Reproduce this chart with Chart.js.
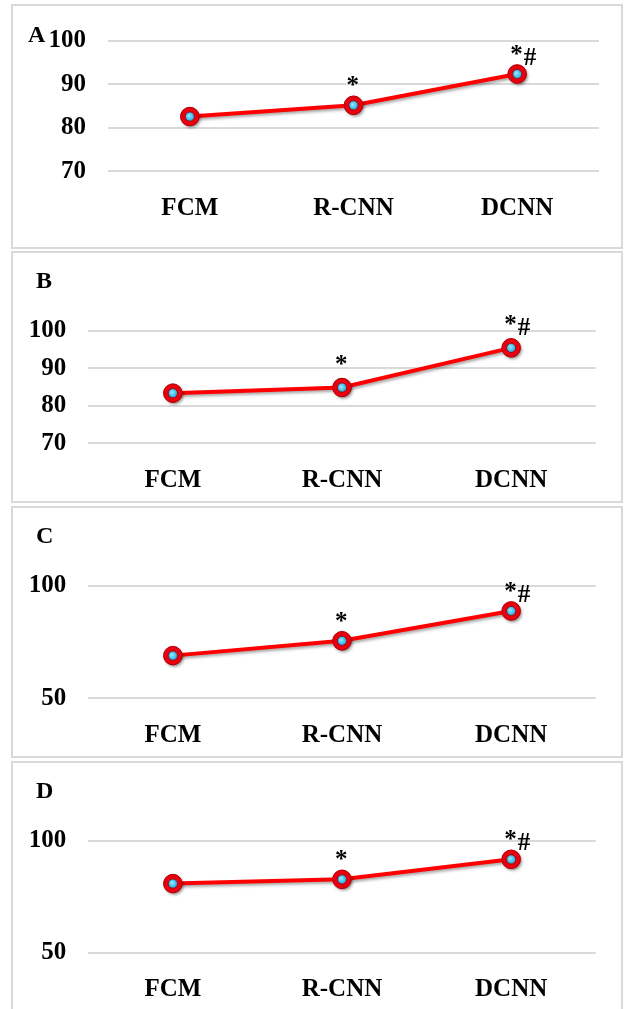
<!DOCTYPE html>
<html>
<head>
<meta charset="utf-8">
<script src="https://cdn.jsdelivr.net/npm/chart.js@4.4.1/dist/chart.umd.min.js"></script>
<style>
  html, body { margin: 0; padding: 0; background: #fff; }
  body { position: relative; width: 625px; height: 1009px; overflow: hidden; }
  .frame { position: absolute; left: 11px; width: 612px; box-sizing: border-box; border: 2px solid #d9d9d9; }
  canvas { position: absolute; left: 0; }
</style>
</head>
<body>
<div class="frame" id="fA"></div>
<div class="frame" id="fB"></div>
<div class="frame" id="fC"></div>
<div class="frame" id="fD"></div>
<canvas id="cA"></canvas>
<canvas id="cB"></canvas>
<canvas id="cC"></canvas>
<canvas id="cD"></canvas>
<script>
// Segmentation methods compared in every panel
const methods = ['FCM', 'R-CNN', 'DCNN'];

// Scores per panel (%)
const scoresA = [82.6, 85.2, 92.4];
const scoresB = [83.4, 84.9, 95.5];
const scoresC = [69.0, 75.6, 88.9];
const scoresD = [80.9, 82.8, 91.7];

// Significance marks above each method
const marks = ['', '*', '*#'];

// Y-axis tick values
const ticksAB = [70, 80, 90, 100];
const ticksCD = [50, 100];

const FONT = "'Liberation Serif', 'Times New Roman', serif";

// Panel geometry (page pixels)
const panels = [
  { id: 'A', data: scoresA, ticks: ticksAB, min: 70, max: 100, top: 4,   height: 245, gl: 108,  gr: 599,   gt: 37,    gb: 171.3, lx: 28, ly: 42,    lift: 9 },
  { id: 'B', data: scoresB, ticks: ticksAB, min: 70, max: 100, top: 251, height: 252, gl: 88.3, gr: 595.7, gt: 331,   gb: 443.3, lx: 36, ly: 288,   lift: 13 },
  { id: 'C', data: scoresC, ticks: ticksCD, min: 50, max: 100, top: 506, height: 252, gl: 88.3, gr: 595.7, gt: 586,   gb: 698.3, lx: 36, ly: 542.5, lift: 9 },
  { id: 'D', data: scoresD, ticks: ticksCD, min: 50, max: 100, top: 761, height: 252, gl: 88.3, gr: 595.7, gt: 840.7, gb: 953,   lx: 36, ly: 798,   lift: 9 }
];

const X_AXIS_H = 50;

// Soft drop shadow under the line and markers
const shade = {
  id: 'shade',
  beforeDatasetsDraw(chart) {
    const c = chart.ctx;
    c.save();
    c.shadowColor = 'rgba(0,0,0,0.35)';
    c.shadowBlur = 3;
    c.shadowOffsetX = 1.5;
    c.shadowOffsetY = 2;
  },
  afterDatasetsDraw(chart) { chart.ctx.restore(); }
};

// Marker finish, significance marks and panel letter
const annotate = {
  id: 'annotate',
  afterDatasetsDraw(chart, args, o) {
    const ctx = chart.ctx;
    const pts = chart.getDatasetMeta(0).data;
    ctx.save();
    pts.forEach(p => {
      const g = ctx.createRadialGradient(p.x - 1, p.y - 1, 0.3, p.x, p.y, 4.8);
      g.addColorStop(0, '#9ae9ff');
      g.addColorStop(1, '#14a9e0');
      ctx.beginPath();
      ctx.arc(p.x, p.y, 4.6, 0, Math.PI * 2);
      ctx.fillStyle = g;
      ctx.fill();
      ctx.lineWidth = 0.9;
      ctx.strokeStyle = '#a8000a';
      ctx.stroke();
      ctx.beginPath();
      ctx.arc(p.x, p.y, 9.3, 0, Math.PI * 2);
      ctx.strokeStyle = '#b0000c';
      ctx.lineWidth = 1;
      ctx.stroke();
    });

    ctx.fillStyle = '#000';
    ctx.textBaseline = 'alphabetic';
    ctx.textAlign = 'left';
    ctx.font = 'bold 25px ' + FONT;
    o.marks.forEach((m, i) => {
      if (!m) return;
      const p = pts[i];
      let x = p.x - 7;
      const base = p.y - o.lift;
      for (const ch of m) {
        const dy = ch === '*' ? -3 : 0;
        ctx.fillText(ch, x, base + dy);
        x += ctx.measureText(ch).width + (ch === '*' ? 1 : 0);
      }
    });

    ctx.font = 'bold 24px ' + FONT;
    ctx.fillText(o.letter, o.lx, o.ly);
    ctx.restore();
  }
};

panels.forEach(P => {
  const frame = document.getElementById('f' + P.id);
  frame.style.top = P.top + 'px';
  frame.style.height = P.height + 'px';

  const cv = document.getElementById('c' + P.id);
  cv.width = 625;
  cv.height = P.height;
  cv.style.top = P.top + 'px';
  cv.style.width = '625px';
  cv.style.height = P.height + 'px';

  const tickFont = { family: FONT, size: 25, weight: 'bold' };

  new Chart(cv, {
    type: 'line',
    data: {
      labels: methods,
      datasets: [{
        data: P.data,
        borderColor: '#ff0000',
        borderWidth: 4,
        tension: 0,
        pointRadius: 7,
        pointHoverRadius: 7,
        pointBorderWidth: 5,
        pointBorderColor: '#e8000e',
        pointBackgroundColor: '#19b4ea',
        clip: false
      }]
    },
    options: {
      responsive: false,
      animation: false,
      events: [],
      layout: {
        padding: {
          left: 0,
          right: 625 - P.gr,
          top: P.gt - P.top,
          bottom: P.height - (P.gb - P.top) - X_AXIS_H
        }
      },
      plugins: {
        legend: { display: false },
        tooltip: { enabled: false },
        annotate: { marks: marks, lift: P.lift, letter: P.id, lx: P.lx, ly: P.ly - P.top }
      },
      scales: {
        x: {
          type: 'category',
          offset: true,
          grid: { display: false },
          border: { display: false },
          ticks: { color: '#000', font: tickFont, padding: 14, maxRotation: 0, autoSkip: false },
          afterFit: s => { s.height = X_AXIS_H; }
        },
        y: {
          min: P.min,
          max: P.max,
          grid: { color: '#d9d9d9', lineWidth: 2, drawTicks: false },
          border: { display: false },
          ticks: { color: '#000', font: tickFont, padding: 22 },
          afterBuildTicks: s => { s.ticks = P.ticks.map(v => ({ value: v })); },
          afterFit: s => { s.width = P.gl; }
        }
      }
    },
    plugins: [shade, annotate]
  });
});
</script>
</body>
</html>
